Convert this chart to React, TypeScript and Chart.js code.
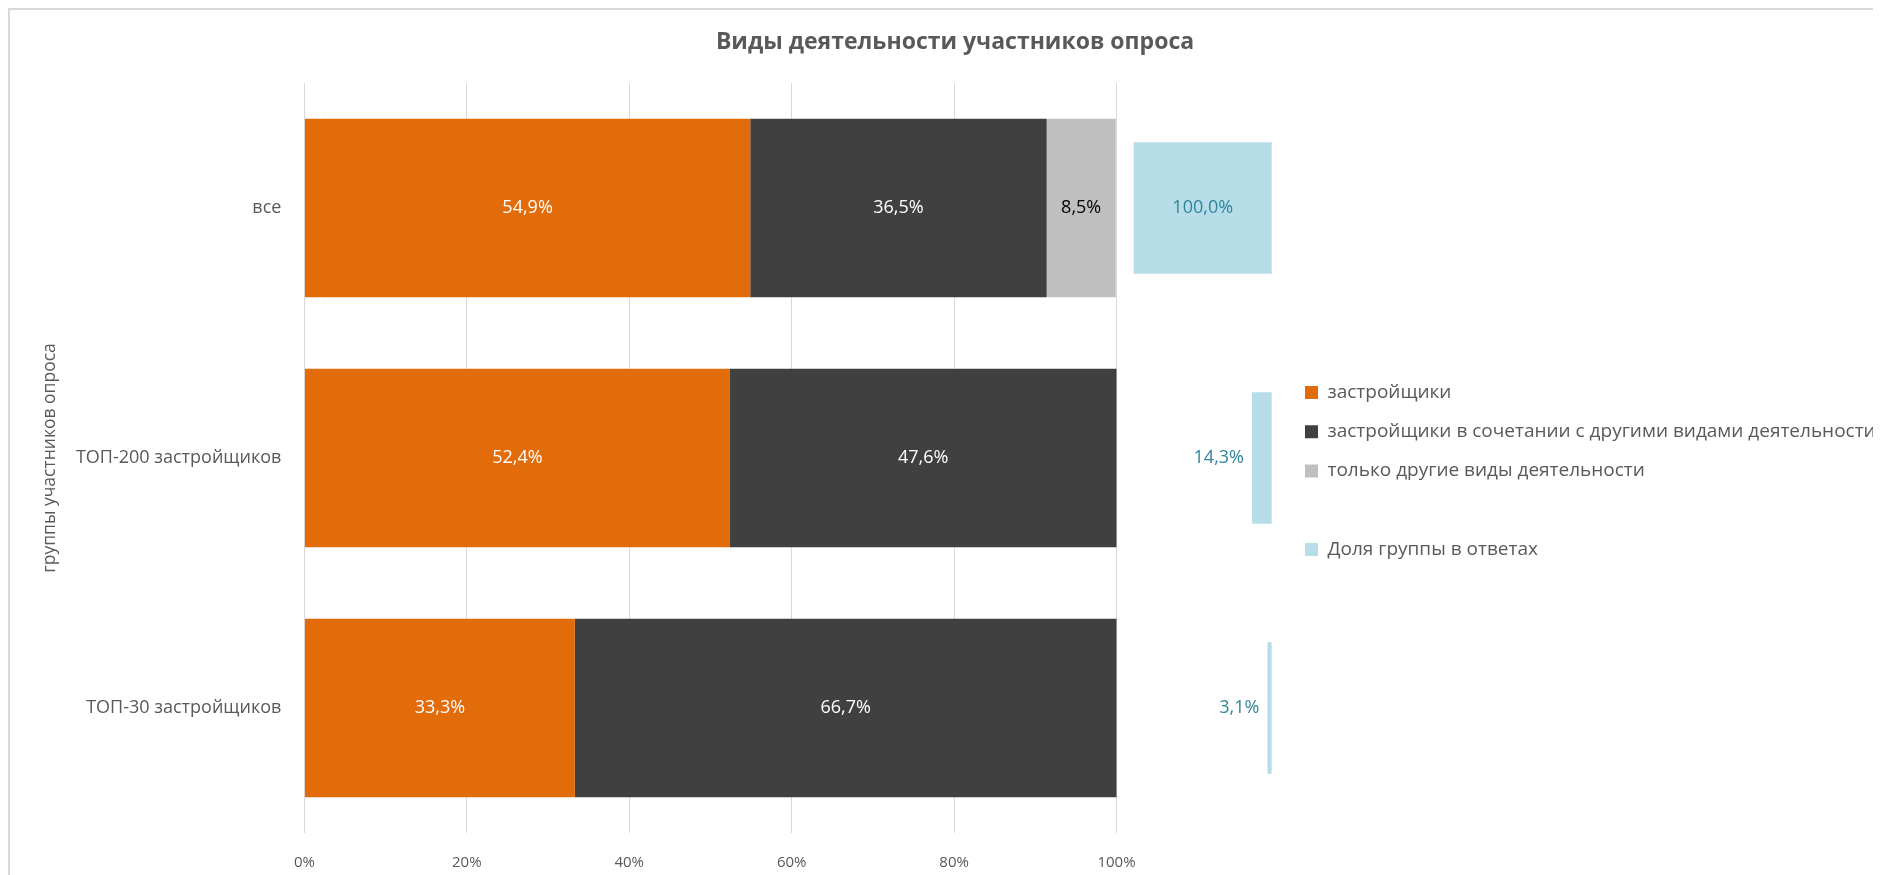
import React, { useEffect, useRef } from 'react';
import { Chart, registerables } from 'chart.js';

Chart.register(...registerables);

const chartTitle = 'Виды деятельности участников опроса';
const yAxisTitle = 'группы участников опроса';
const categories = ['все', 'ТОП-200 застройщиков', 'ТОП-30 застройщиков'];
const seriesNames = [
  'застройщики',
  'застройщики в сочетании с другими видами деятельности',
  'только другие виды деятельности',
  'Доля группы в ответах',
];
const developers = [54.9, 52.4, 33.3];
const developersCombined = [36.5, 47.6, 66.7];
const otherOnly = [8.5, 0, 0];
const groupShare = [100, 14.3, 3.1];
const xTickValues = [0, 20, 40, 60, 80, 100];

const FONT = "'Open Sans', 'Noto Sans', sans-serif";
const TEXT = '#595959';
const COLORS = ['#E26B0A', '#404040', '#BFBFBF', '#B7DEE8'];
const LABEL_COLORS = ['#FFFFFF', '#FFFFFF', '#000000', '#31859C'];

const fmt = (v: number) => v.toFixed(1).replace('.', ',') + '%';

const valueLabels = {
  id: 'valueLabels',
  afterDatasetsDraw(chart: any) {
    const ctx = chart.ctx;
    ctx.save();
    ctx.font = `18px ${FONT}`;
    ctx.textBaseline = 'middle';
    chart.data.datasets.forEach((ds: any, di: number) => {
      const meta = chart.getDatasetMeta(di);
      meta.data.forEach((el: any, i: number) => {
        const v = ds.data[i];
        if (!v) return;
        const { x, y, base } = el.getProps(['x', 'y', 'base'], true);
        const left = Math.min(x, base);
        const right = Math.max(x, base);
        const text = fmt(v);
        const tw = ctx.measureText(text).width;
        ctx.fillStyle = LABEL_COLORS[di];
        if (tw + 8 <= right - left) {
          ctx.textAlign = 'center';
          ctx.fillText(text, (left + right) / 2, y);
        } else {
          ctx.textAlign = 'right';
          ctx.fillText(text, left - 8, y);
        }
      });
    });
    ctx.restore();
  },
};

export default function App() {
  const ref = useRef<HTMLCanvasElement | null>(null);

  useEffect(() => {
    if (!ref.current) return;
    const mk = (idx: number, data: number[], axis: string, pct: number) => ({
      label: seriesNames[idx],
      data,
      backgroundColor: COLORS[idx],
      borderWidth: 0,
      xAxisID: axis,
      stack: 'g',
      barPercentage: pct,
      categoryPercentage: 1,
    });
    const chart = new Chart(ref.current, {
      type: 'bar',
      data: {
        labels: categories,
        datasets: [
          mk(0, developers, 'x', 0.714),
          mk(1, developersCombined, 'x', 0.714),
          mk(2, otherOnly, 'x', 0.714),
          mk(3, groupShare, 'x2', 0.526),
        ],
      },
      options: {
        indexAxis: 'y',
        responsive: false,
        animation: false,
        layout: { padding: { left: 19, right: 0, top: 0, bottom: 0 } },
        scales: {
          y: {
            type: 'category',
            stacked: true,
            grid: { display: false, drawTicks: false },
            border: { display: false },
            ticks: { color: TEXT, font: { family: FONT, size: 18 }, padding: 23 },
            title: {
              display: true,
              text: yAxisTitle,
              color: TEXT,
              font: { family: FONT, size: 17.5 },
              padding: { top: 10.5, bottom: 0 },
            },
            afterFit: (s: any) => {
              s.width = 275.4;
            },
          },
          x: {
            type: 'linear',
            position: 'bottom',
            stacked: true,
            min: 0,
            max: 120.71,
            afterBuildTicks: (s: any) => {
              s.ticks = xTickValues.map((v) => ({ value: v }));
            },
            afterFit: (s: any) => {
              s.height = 42;
            },
            ticks: {
              color: TEXT,
              font: { family: FONT, size: 15 },
              padding: 21,
              callback: (v: any) => v + '%',
            },
            grid: { color: '#D9D9D9', lineWidth: 1, drawTicks: false },
            border: { display: false },
          },
          x2: {
            type: 'linear',
            position: 'top',
            display: false,
            reverse: true,
            stacked: true,
            min: -9.42,
            max: 700.94,
            grid: { display: false },
          },
        },
        plugins: {
          title: {
            display: true,
            text: chartTitle,
            color: TEXT,
            font: { family: FONT, size: 23, weight: 'bold' },
            padding: { top: 18.2, bottom: 27.2 },
          },
          legend: {
            position: 'right',
            align: 'center',
            maxWidth: 596.3,
            title: { display: true, text: '', font: { size: 10 }, padding: { top: 22.5, bottom: 22.5 } },
            labels: {
              color: TEXT,
              font: { family: FONT, size: 19 },
              boxWidth: 13,
              boxHeight: 13,
              padding: 20.3,
              generateLabels: (c: any) => {
                const items = (Chart.defaults as any).plugins.legend.labels.generateLabels(c);
                items.splice(3, 0, {
                  text: '\u2003'.repeat(40),
                  fillStyle: 'rgba(0,0,0,0)',
                  strokeStyle: 'rgba(0,0,0,0)',
                  lineWidth: 0,
                  hidden: false,
                  datasetIndex: -1,
                });
                return items;
              },
            },
          },
          tooltip: { enabled: false },
        },
      } as any,
      plugins: [valueLabels],
    });
    return () => chart.destroy();
  }, []);

  return (
    <>
      <style>{'html,body{overflow:hidden}'}</style>
      <div
        style={{
          width: 1871,
          height: 865,
          borderTop: '2px solid #D9D9D9',
          borderLeft: '2px solid #D9D9D9',
        }}
      >
        <canvas ref={ref} width={1871} height={865} style={{ display: 'block' }} />
      </div>
    </>
  );
}
